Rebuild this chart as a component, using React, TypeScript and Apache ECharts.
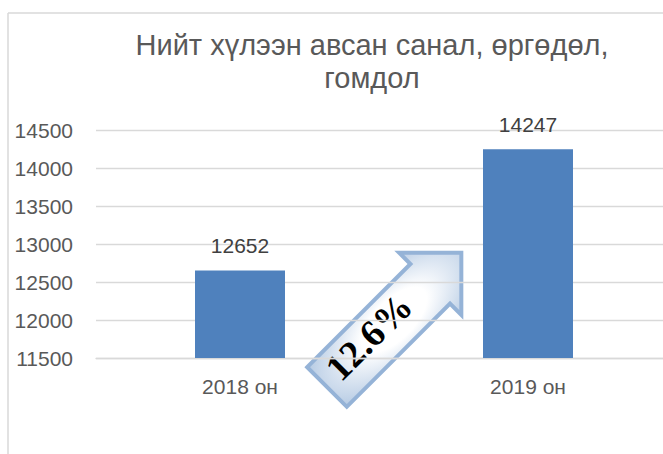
import React, { useEffect, useRef } from "react";
import * as echarts from "echarts";

const titleLines = ["Нийт хүлээн авсан санал, өргөдөл,", "гомдол"];
const categories = ["2018 он", "2019 он"];
const values = [12652, 14247];
const yMin = 11500;
const yMax = 14500;
const yStep = 500;
const growthLabel = "12.6%";

export default function App() {
  const ref = useRef<HTMLDivElement>(null);
  useEffect(() => {
    if (!ref.current) return;
    document.body.style.overflow = "hidden";
    const chart = echarts.init(ref.current, undefined, { renderer: "svg" });
    const axisFont = "'Liberation Sans', Arial, sans-serif";
    chart.setOption({
      animation: false,
      backgroundColor: "#ffffff",
      grid: { left: 96, top: 130, width: 576, height: 228, containLabel: false },
      xAxis: {
        type: "category",
        data: categories,
        axisLine: { lineStyle: { color: "#D9D9D9", width: 1.3 } },
        axisTick: { show: false },
        axisLabel: { color: "#595959", fontSize: 21, fontFamily: axisFont, margin: 18 },
      },
      yAxis: {
        type: "value",
        min: yMin,
        max: yMax,
        interval: yStep,
        axisLine: { show: false },
        axisTick: { show: false },
        splitLine: { lineStyle: { color: "#D9D9D9", width: 1.3 } },
        axisLabel: {
          color: "#595959",
          fontSize: 21,
          fontFamily: axisFont,
          margin: 23,
          formatter: (v: number) => String(v),
        },
      },
      series: [
        {
          type: "bar",
          data: values,
          barWidth: 90,
          itemStyle: { color: "#4F81BD" },
          label: {
            show: true,
            position: "top",
            distance: 14,
            color: "#404040",
            fontSize: 21,
            fontFamily: axisFont,
          },
        },
      ],
      graphic: [
        {
          type: "line",
          shape: { x1: 8, y1: 13, x2: 680, y2: 13 },
          style: { stroke: "#D9D9D9", lineWidth: 1.5 },
          silent: true,
        },
        {
          type: "line",
          shape: { x1: 8, y1: 13, x2: 8, y2: 454 },
          style: { stroke: "#D9D9D9", lineWidth: 1.5 },
          silent: true,
        },
        {
          type: "text",
          x: 372,
          y: 28,
          style: {
            text: titleLines.join("\n"),
            align: "center",
            verticalAlign: "top",
            fill: "#595959",
            fontSize: 29,
            lineHeight: 33,
            fontFamily: "'Liberation Sans', Arial, sans-serif",
          },
        },
        {
          type: "group",
          x: 327,
          y: 387,
          rotation: Math.PI / 4,
          z: 100,
          children: [
            {
              type: "polygon",
              shape: {
                points: [
                  [0, -28],
                  [146, -28],
                  [146, -44],
                  [190, 0],
                  [146, 44],
                  [146, 28],
                  [0, 28],
                ],
              },
              style: {
                fill: {
                  type: "radial",
                  x: 0.5,
                  y: 0.5,
                  r: 1.1,
                  colorStops: [
                    { offset: 0, color: "#ffffff" },
                    { offset: 0.2, color: "#ffffff" },
                    { offset: 1, color: "#4F81BD" },
                  ],
                },
                stroke: "#95B3D7",
                lineWidth: 4,
                lineJoin: "miter",
              },
            },
            {
              type: "text",
              x: 65,
              y: -6,
              style: {
                text: growthLabel,
                align: "center",
                verticalAlign: "middle",
                fill: "#000000",
                fontSize: 38,
                fontWeight: "bold",
                fontFamily: "'Liberation Serif', 'Times New Roman', serif",
              },
            },
          ],
        },
      ],
    });
    return () => chart.dispose();
  }, []);
  return (
    <div
      ref={ref}
      style={{ position: "fixed", left: 0, top: 0, width: 680, height: 454 }}
    />
  );
}
